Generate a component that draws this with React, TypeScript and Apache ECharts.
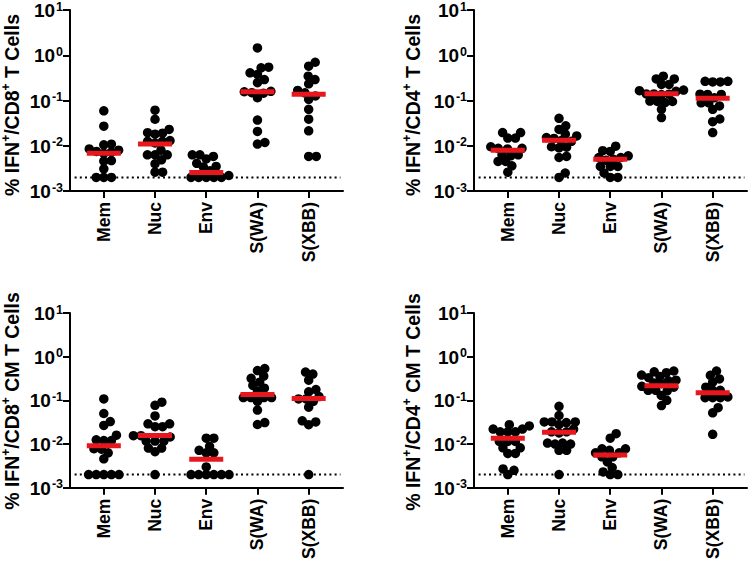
import React, { useEffect, useRef } from "react";
import * as echarts from "echarts";

const categories = ["Mem", "Nuc", "Env", "S(WA)", "S(XBB)"];
const detectionLimit = 0.002;

// Panel A: % IFN+/CD8+ T Cells
const cd8Mem = [0.059, 0.027, 0.0108, 0.0105, 0.0085, 0.008, 0.0075, 0.0072, 0.0068, 0.0047, 0.0046, 0.0031, 0.002, 0.002, 0.002];
const cd8Nuc = [0.061, 0.0385, 0.023, 0.0195, 0.019, 0.018, 0.013, 0.0125, 0.0125, 0.0115, 0.008, 0.0063, 0.0063, 0.0063, 0.0049, 0.004, 0.0026, 0.0026];
const cd8Env = [0.0063, 0.0063, 0.0058, 0.0051, 0.0041, 0.0035, 0.0034, 0.0028, 0.0022, 0.002, 0.002, 0.002, 0.002, 0.002];
const cd8SWA = [1.45, 0.545, 0.527, 0.41, 0.376, 0.29, 0.247, 0.16, 0.156, 0.149, 0.145, 0.115, 0.037, 0.0207, 0.0118, 0.0109];
const cd8SXBB = [0.7, 0.573, 0.345, 0.29, 0.234, 0.167, 0.148, 0.126, 0.106, 0.064, 0.0386, 0.0214, 0.0058, 0.0058];
const cd8Medians = [0.0068, 0.0109, 0.00255, 0.156, 0.137];

// Panel B: % IFN+/CD4+ T Cells
const cd4Mem = [0.0196, 0.0196, 0.0148, 0.0148, 0.0095, 0.0088, 0.0088, 0.0085, 0.0063, 0.0063, 0.006, 0.0045, 0.0045, 0.0036, 0.0026];
const cd4Nuc = [0.0405, 0.0275, 0.023, 0.018, 0.0165, 0.0152, 0.0145, 0.013, 0.0125, 0.0095, 0.0093, 0.009, 0.0058, 0.0055, 0.0025, 0.002];
const cd4Env = [0.0098, 0.0078, 0.0075, 0.006, 0.0055, 0.0055, 0.005, 0.0048, 0.0035, 0.0035, 0.0035, 0.0025, 0.002, 0.002];
const cd4SWA = [0.345, 0.3, 0.3, 0.227, 0.227, 0.17, 0.165, 0.16, 0.14, 0.14, 0.138, 0.135, 0.097, 0.095, 0.095, 0.09, 0.064, 0.042];
const cd4SXBB = [0.266, 0.266, 0.257, 0.257, 0.138, 0.136, 0.136, 0.115, 0.089, 0.089, 0.076, 0.064, 0.039, 0.034, 0.0196];
const cd4Medians = [0.008, 0.0133, 0.005, 0.141, 0.112];

// Panel C: % IFN+/CD8+ CM T Cells
const cd8cmMem = [0.108, 0.05, 0.0327, 0.0267, 0.016, 0.0125, 0.012, 0.012, 0.0078, 0.0076, 0.0063, 0.0046, 0.002, 0.002, 0.002, 0.002, 0.002];
const cd8cmNuc = [0.091, 0.077, 0.044, 0.029, 0.029, 0.025, 0.025, 0.0155, 0.0155, 0.0145, 0.0117, 0.0117, 0.0117, 0.0081, 0.0081, 0.0067, 0.002];
const cd8cmEnv = [0.0136, 0.0136, 0.0089, 0.0072, 0.0063, 0.0063, 0.003, 0.002, 0.002, 0.002, 0.002, 0.002, 0.002];
const cd8cmSWA = [0.536, 0.48, 0.36, 0.32, 0.26, 0.22, 0.19, 0.162, 0.116, 0.116, 0.116, 0.116, 0.095, 0.06, 0.031, 0.028];
const cd8cmSXBB = [0.445, 0.4, 0.29, 0.177, 0.157, 0.122, 0.108, 0.108, 0.095, 0.07, 0.034, 0.032, 0.0277, 0.002];
const cd8cmMedians = [0.0091, 0.0156, 0.0045, 0.137, 0.11];

// Panel D: % IFN+/CD4+ CM T Cells
const cd4cmMem = [0.0277, 0.026, 0.022, 0.022, 0.019, 0.019, 0.019, 0.0115, 0.0115, 0.0115, 0.0082, 0.0082, 0.0061, 0.0061, 0.0027, 0.0025, 0.002];
const cd4cmNuc = [0.073, 0.045, 0.032, 0.032, 0.032, 0.031, 0.028, 0.022, 0.019, 0.019, 0.018, 0.0105, 0.0105, 0.01, 0.01, 0.0072, 0.0072, 0.002];
const cd4cmEnv = [0.0173, 0.0136, 0.0078, 0.0078, 0.0072, 0.0063, 0.0063, 0.0051, 0.0051, 0.0039, 0.0029, 0.0023, 0.002, 0.002];
const cd4cmSWA = [0.47, 0.45, 0.43, 0.38, 0.35, 0.33, 0.29, 0.28, 0.25, 0.24, 0.21, 0.2, 0.17, 0.17, 0.165, 0.13, 0.1, 0.076];
const cd4cmSXBB = [0.47, 0.375, 0.31, 0.26, 0.2, 0.17, 0.17, 0.12, 0.115, 0.115, 0.115, 0.068, 0.052, 0.0167];
const cd4cmMedians = [0.0136, 0.0185, 0.0056, 0.216, 0.149];

const panelTitles = [
  ["% IFN", "+", "/CD8", "+", " T Cells"],
  ["% IFN", "+", "/CD4", "+", " T Cells"],
  ["% IFN", "+", "/CD8", "+", " CM T Cells"],
  ["% IFN", "+", "/CD4", "+", " CM T Cells"],
];
const panelGroups = [
  [cd8Mem, cd8Nuc, cd8Env, cd8SWA, cd8SXBB],
  [cd4Mem, cd4Nuc, cd4Env, cd4SWA, cd4SXBB],
  [cd8cmMem, cd8cmNuc, cd8cmEnv, cd8cmSWA, cd8cmSXBB],
  [cd4cmMem, cd4cmNuc, cd4cmEnv, cd4cmSWA, cd4cmSXBB],
];
const panelMedians = [cd8Medians, cd4Medians, cd8cmMedians, cd4cmMedians];

// layout
const GRID_LEFTS = [70, 474, 70, 474];
const GRID_TOPS = [9, 9, 313, 313];
const TITLE_X = [11, 412, 11, 412];
const TITLE_Y = [105, 105, 401, 402];
const GRID_W = 273;
const GRID_H = 182;
const X_MIN = -0.66;
const X_MAX = 4.67;
const Y_MIN = 0.001;
const Y_MAX = 10;
const DOT = 9.5;
const SWARM_D = 7.6;
const FONT = "'Liberation Sans', Arial, sans-serif";

function swarmOffsets(values: number[], pxPerDecade: number, pxPerUnit: number, d: number): number[] {
  const order = values.map((_, i) => i).sort((a, b) => values[a] - values[b]);
  const placed: { x: number; y: number }[] = [];
  const offs = new Array(values.length).fill(0);
  for (const i of order) {
    const y = Math.log10(values[i]) * pxPerDecade;
    const blocks: [number, number][] = [];
    for (const p of placed) {
      const dy = y - p.y;
      if (Math.abs(dy) < d) {
        const dx = Math.sqrt(d * d - dy * dy);
        blocks.push([p.x - dx, p.x + dx]);
      }
    }
    const cands = [0];
    blocks.forEach(([a, b]) => cands.push(a, b));
    cands.sort((a, b) => Math.abs(a) - Math.abs(b) || b - a);
    let x = 0;
    for (const c of cands) {
      if (blocks.every(([a, b]) => c <= a + 1e-6 || c >= b - 1e-6)) {
        x = c;
        break;
      }
    }
    placed.push({ x, y });
    offs[i] = x / pxPerUnit;
  }
  return offs;
}

export default function App() {
  const ref = useRef<HTMLDivElement>(null);
  useEffect(() => {
    document.body.style.margin = "0";
    if (!ref.current) return;
    const chart = echarts.init(ref.current, undefined, { renderer: "svg" });
    const pxPerDecade = GRID_H / Math.log10(Y_MAX / Y_MIN);
    const pxPerUnit = GRID_W / (X_MAX - X_MIN);

    const grids: any[] = [];
    const xAxes: any[] = [];
    const yAxes: any[] = [];
    const series: any[] = [];
    const graphics: any[] = [];

    panelGroups.forEach((groups, p) => {
      grids.push({ left: GRID_LEFTS[p], top: GRID_TOPS[p], width: GRID_W, height: GRID_H, containLabel: false });
      xAxes.push({
        type: "value",
        gridIndex: p,
        min: X_MIN,
        max: X_MAX,
        axisLine: { show: true, onZero: false, lineStyle: { color: "#000", width: 2 } },
        axisTick: { show: true, length: 7, lineStyle: { color: "#000", width: 2 }, customValues: [0, 1, 2, 3, 4] },
        splitLine: { show: false },
        axisLabel: {
          customValues: [0, 1, 2, 3, 4],
          rotate: 90,
          margin: 11,
          color: "#000",
          fontSize: 17.5,
          fontWeight: "bold",
          fontFamily: FONT,
          formatter: (v: number) => categories[Math.round(v)] ?? "",
        },
      });
      yAxes.push({
        type: "log",
        logBase: 10,
        gridIndex: p,
        position: "left",
        min: Y_MIN,
        max: Y_MAX,
        z: 5,
        axisLine: { show: true, onZero: false, lineStyle: { color: "#000", width: 2 } },
        axisTick: { show: true, length: 7, lineStyle: { color: "#000", width: 2 } },
        minorTick: { show: false },
        splitLine: { show: false },
        axisLabel: {
          margin: 7,
          color: "#000",
          fontFamily: FONT,
          formatter: (v: number) => "{b|10}{s|" + Math.round(Math.log10(v)) + "}",
          rich: {
            b: { fontSize: 19, fontWeight: "bold", color: "#000", fontFamily: FONT, lineHeight: 20, verticalAlign: "bottom" },
            s: { fontSize: 12.5, fontWeight: "bold", color: "#000", fontFamily: FONT, lineHeight: 20, verticalAlign: "top", padding: [0, 0, 0, 1] },
          },
        },
      });

      const t = panelTitles[p];
      graphics.push({
        type: "text",
        x: TITLE_X[p],
        y: TITLE_Y[p],
        rotation: Math.PI / 2,
        silent: true,
        style: {
          text: `{t|${t[0]}}{s|${t[1]}}{t|${t[2]}}{s|${t[3]}}{t|${t[4]}}`,
          align: "center",
          verticalAlign: "middle",
          rich: {
            t: { fontSize: 19.5, fontWeight: "bold", fill: "#000", fontFamily: FONT, lineHeight: 22, verticalAlign: "bottom" },
            s: { fontSize: 12, fontWeight: "bold", fill: "#000", fontFamily: FONT, lineHeight: 22, verticalAlign: "top" },
          },
        },
      });

      // detection limit
      series.push({
        type: "line",
        xAxisIndex: p,
        yAxisIndex: p,
        data: [
          [-0.57, detectionLimit],
          [4.62, detectionLimit],
        ],
        symbol: "none",
        lineStyle: { color: "#000", width: 2, type: [2, 3.2] },
        z: 1,
        silent: true,
      });

      const dots: number[][] = [];
      groups.forEach((vals, k) => {
        const offs = swarmOffsets(vals, pxPerDecade, pxPerUnit, SWARM_D);
        vals.forEach((v, j) => dots.push([k + offs[j], v]));
      });
      series.push({
        type: "scatter",
        xAxisIndex: p,
        yAxisIndex: p,
        data: dots,
        symbol: "circle",
        symbolSize: DOT,
        itemStyle: { color: "#000", opacity: 1 },
        z: 2,
      });

      series.push({
        type: "scatter",
        xAxisIndex: p,
        yAxisIndex: p,
        data: panelMedians[p].map((m, k) => [k, m]),
        symbol: "rect",
        symbolSize: [34, 5],
        itemStyle: { color: "#e8161d", opacity: 1 },
        z: 3,
      });
    });

    chart.setOption({
      animation: false,
      backgroundColor: "#fff",
      grid: grids,
      xAxis: xAxes,
      yAxis: yAxes,
      series,
      graphic: graphics,
    });
    return () => chart.dispose();
  }, []);
  return <div ref={ref} style={{ width: 750, height: 562 }} />;
}
